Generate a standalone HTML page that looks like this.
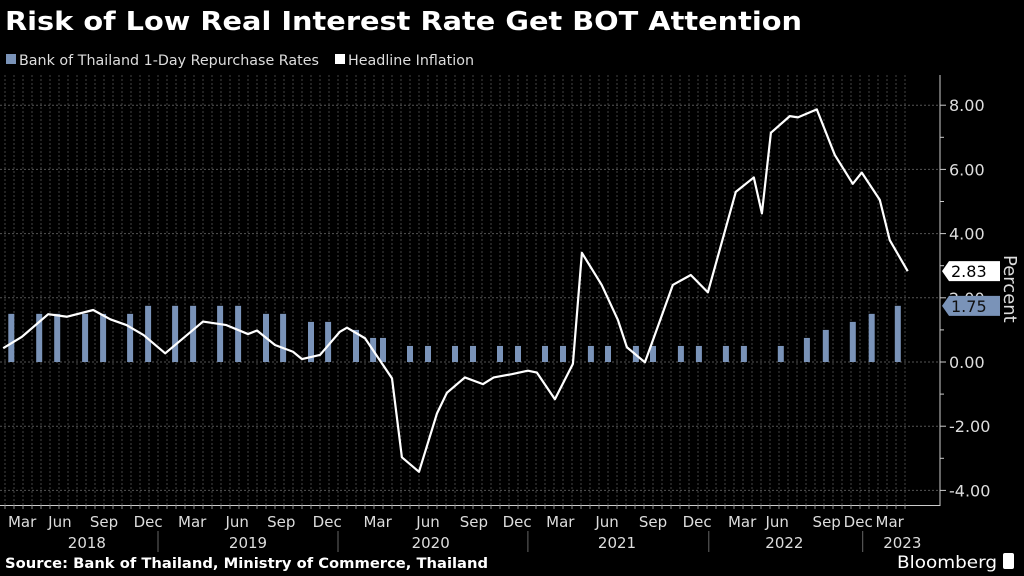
<!DOCTYPE html>
<html><head><meta charset="utf-8"><style>
html,body{margin:0;padding:0;background:#000;}
svg{display:block;font-family:"DejaVu Sans","Liberation Sans",sans-serif;}
</style></head><body>
<svg id="chart" width="1024" height="576" viewBox="0 0 1024 576">
<rect x="0" y="0" width="1024" height="576" fill="#000"/>
<text x="5" y="30" fill="#fff" font-size="26" font-weight="bold" textLength="797" lengthAdjust="spacingAndGlyphs">Risk of Low Real Interest Rate Get BOT Attention</text>
<g>
<g><rect x="6" y="54" width="10" height="10" fill="#7a93b8"/><text x="19" y="65" fill="#ddd" font-size="14" textLength="300" lengthAdjust="spacingAndGlyphs">Bank of Thailand 1-Day Repurchase Rates</text></g>
<g><rect x="335" y="54" width="10" height="10" fill="#fff"/><text x="348" y="65" fill="#ddd" font-size="14" textLength="126" lengthAdjust="spacingAndGlyphs">Headline Inflation</text></g>
</g>
<g id="grid"></g><g id="bars"></g><g id="line"></g><g id="axes"></g>
<text x="5" y="568" fill="#fff" font-size="14" font-weight="bold" textLength="483" lengthAdjust="spacingAndGlyphs">Source: Bank of Thailand, Ministry of Commerce, Thailand</text>
<text x="897" y="568" fill="#fff" font-size="17" textLength="100" lengthAdjust="spacingAndGlyphs">Bloomberg</text>
<rect x="1003" y="553" width="11" height="16" rx="2" fill="#fff"/>
</svg>
<script>
const inflPos=[-0.2,1.9,4.8,6.9,9.8,11.7,13.5,15.4,17.8,22,24.6,27,28,30,32,33,35,37.2,38,40,43,44.1,46,48,49.1,51.1,53.1,54.3,56.3,58.1,59.1,61.1,63.1,64.1,66.3,68.1,69.1,71.1,72.8,74.2,76.2,78.1,81.2,83.2,84.1,85.1,87.2,88.1,90.2,92.2,94.2,95.2,97.2,98.3,100.3];
const inflVals=[0.43,0.79,1.49,1.41,1.62,1.33,1.15,0.84,0.27,1.26,1.15,0.87,0.98,0.53,0.32,0.09,0.22,0.94,1.07,0.74,-0.51,-2.97,-3.42,-1.6,-0.96,-0.48,-0.69,-0.48,-0.38,-0.27,-0.33,-1.16,-0.06,3.4,2.4,1.31,0.46,-0.01,1.31,2.4,2.71,2.17,5.3,5.75,4.63,7.14,7.66,7.62,7.87,6.45,5.55,5.9,5.05,3.8,2.83];
const ratePos=[0.7,3.8,5.8,8.9,10.9,13.9,15.9,18.9,20.9,23.9,25.9,29,30.9,34,35.9,39,40.9,42,45,47,50,52,55,57,60,62,65.1,67,70.1,72,75.1,77.1,80.1,82.1,86.2,89.1,91.2,94.2,96.3,99.2];
const rateVals=[1.5,1.5,1.5,1.5,1.5,1.5,1.75,1.75,1.75,1.75,1.75,1.5,1.5,1.25,1.25,1,0.75,0.75,0.5,0.5,0.5,0.5,0.5,0.5,0.5,0.5,0.5,0.5,0.5,0.5,0.5,0.5,0.5,0.5,0.5,0.75,1,1.25,1.5,1.75];
const yTicks=[-4,-2,0,2,4,6,8];
const monthLabels=["Mar","Jun","Sep","Dec","Mar","Jun","Sep","Dec","Mar","Jun","Sep","Dec","Mar","Jun","Sep","Dec","Mar","Jun","Sep","Dec","Mar"];
const monthPos=[1.9,6.1,11,15.9,20.8,25.8,30.7,35.8,41.4,47,52.1,56.9,61.7,66.9,72,76.9,81.9,85.8,91.3,94.8,98.3];
const yearLabels=["2018","2019","2020","2021","2022","2023"];
const yearPos=[9.1,27,47.3,68,86.6,99.7];
const yearSepPos=[17,37,58.1,78.2,95.3];
const NS="http://www.w3.org/2000/svg";
const X0=5,XS=9,Y0=362,YS=32.1;
const xs=p=>X0+p*XS, ys=v=>Y0-v*YS;
function mk(tag,attrs,parent){const e=document.createElementNS(NS,tag);for(const k in attrs)e.setAttribute(k,attrs[k]);parent.appendChild(e);return e;}
const grid=document.getElementById('grid'),bars=document.getElementById('bars'),line=document.getElementById('line'),axes=document.getElementById('axes');
for(let k=0;k<=100;k++){const gl=mk('line',{x1:xs(k),x2:xs(k),y1:75,y2:505,stroke:'#444','stroke-width':1,'stroke-dasharray':'2,2'},grid);

}
yTicks.forEach(v=>{const gl=mk('line',{x1:0,x2:940,y1:ys(v),y2:ys(v),stroke:'#555','stroke-width':1,'stroke-dasharray':'2,2'},grid);


const t=mk('line',{x1:940,x2:946,y1:ys(v),y2:ys(v),stroke:'#ccc'},axes);


const lb=mk('text',{x:949,y:ys(v)+6,fill:'#ddd','font-size':16},axes);lb.textContent=v.toFixed(2);

});
[-3,-1,1,3,5,7].forEach(v=>{const t=mk('line',{x1:940,x2:944,y1:ys(v),y2:ys(v),stroke:'#ccc'},axes);

});
ratePos.forEach((p,i)=>{const b=mk('rect',{x:xs(p)-3,y:ys(rateVals[i]),width:6,height:rateVals[i]*YS,fill:'#7a93b8'},bars);

});
const pl=mk('polyline',{points:inflPos.map((p,i)=>xs(p)+','+ys(inflVals[i])).join(' '),fill:'none',stroke:'#fff','stroke-width':2.2,'stroke-linejoin':'round'},line);


const ya=mk('line',{x1:940,x2:940,y1:75,y2:506,stroke:'#ccc'},axes);


const xa=mk('line',{x1:0,x2:940,y1:505.5,y2:505.5,stroke:'#ccc'},axes);


for(let k=0;k<=100;k++){const t=mk('line',{x1:xs(k),x2:xs(k),y1:505,y2:509,stroke:'#888'},axes);

}
monthLabels.forEach((m,i)=>{const t=mk('text',{x:xs(monthPos[i]),y:527,fill:'#ddd','font-size':15,'text-anchor':'middle'},axes);t.textContent=m;

});
yearLabels.forEach((y,i)=>{const t=mk('text',{x:xs(yearPos[i]),y:548,fill:'#ddd','font-size':15,'text-anchor':'middle'},axes);t.textContent=y;

});
yearSepPos.forEach(p=>{const s=mk('line',{x1:xs(p),x2:xs(p),y1:531,y2:552,stroke:'#666'},axes);

});
function endLabel(v,bg,fg,name){const y=ys(v);const g=mk('g',{},axes);


mk('path',{d:`M942 ${y} L949 ${y-10} L1000 ${y-10} L1000 ${y+10} L949 ${y+10} Z`,fill:bg},g);
const t=mk('text',{x:951,y:y+6,fill:fg,'font-size':16},g);t.textContent=v.toFixed(2);}
endLabel(rateVals[rateVals.length-1],'#7a93b8','#111','rate-end-label');
endLabel(inflVals[inflVals.length-1],'#fff','#000','inflation-end-label');
const pt=mk('text',{x:0,y:0,fill:'#ddd','font-size':18,transform:'translate(1004,255) rotate(90)'},axes);pt.textContent='Percent';


</script>
</body></html>
